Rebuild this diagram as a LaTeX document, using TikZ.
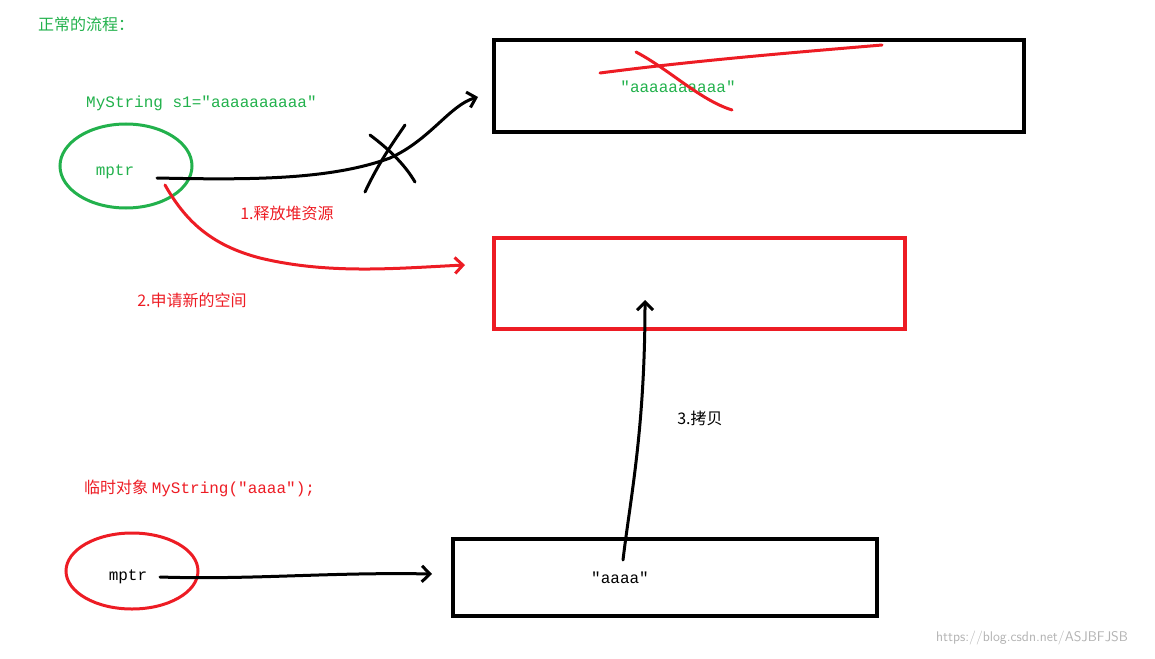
\documentclass[tikz,border=0pt]{standalone}
\usepackage{fontspec}
\setmonofont{Liberation Mono}
\newfontfamily\cjk{Noto Sans CJK SC}
\usetikzlibrary{arrows.meta,shapes.geometric}
\definecolor{gr}{RGB}{34,177,76}
\definecolor{rd}{RGB}{237,28,36}
\tikzset{lbl/.style={font=\fontsize{16}{18}\selectfont\cjk, inner sep=0},
 code/.style={font=\fontsize{16}{18}\selectfont\ttfamily, inner sep=0},
 boxb/.style={draw, line width=4pt},
 pen/.style={line width=3pt, line cap=round, line join=round},
 tip/.style={-{Straight Barb[length=8pt,width=16pt]}}}
\begin{document}
\begin{tikzpicture}[x=1pt,y=-1pt]
\useasboundingbox (0,0) rectangle (1155,658);
\node[lbl, text=gr, anchor=west] (t1) at (38,24) {正常的流程：};
\node[code, text=gr, anchor=west] (t2) at (86,103) {MyString s1="aaaaaaaaaa"};
\node[draw=gr, line width=3pt, ellipse, minimum width=132pt, minimum height=84pt] (e1) at (126,166) {};
\node[code, text=gr] (m1) at (115,172) {mptr};
\node[boxb, minimum width=530pt, minimum height=92pt, anchor=north west] (b1) at (492,38) {};
\node[code, text=gr] (s1) at (678,87) {"aaaaaaaaaa"};
\draw[pen, rd] (600,73) .. controls (700,60) and (800,52) .. (882,45);
\draw[pen, rd] (636,52) .. controls (670,70) and (700,100) .. (732,110);
\coordinate (a1s) at (157,178);
\draw[pen, tip] (a1s) .. controls (250,180) and (330,180) .. (390,158) .. controls (430,140) and (450,105) .. (478,97);
\draw[pen] (365,192) .. controls (380,160) and (395,140) .. (405,125);
\draw[pen] (370,135) .. controls (390,150) and (405,165) .. (415,182);
\node[lbl, text=rd] (l1) at (287,213) {1.释放堆资源};
\coordinate (a2s) at (165,185);
\draw[pen, rd, tip] (a2s) .. controls (185,220) and (210,245) .. (260,258) .. controls (330,275) and (400,268) .. (465,265);
\node[lbl, text=rd] (l2) at (192,300) {2.申请新的空间};
\node[draw=rd, line width=4pt, minimum width=411pt, minimum height=91pt, anchor=north west] (b2) at (492,236) {};
\node[lbl] (l3) at (700,418) {3.拷贝};
\node[lbl, text=rd, anchor=west] (t3) at (84,488) {临时对象 {\ttfamily MyString("aaaa");}};
\node[draw=rd, line width=3pt, ellipse, minimum width=132pt, minimum height=76pt] (e2) at (132,571) {};
\node[code] (m2) at (128,577) {mptr};
\node[boxb, minimum width=424pt, minimum height=77pt, anchor=north west] (b3) at (451,537) {};
\node[code] (s3) at (620,578) {"aaaa"};
\coordinate (a3s) at (160,577);
\draw[pen, tip] (a3s) .. controls (250,580) and (330,572) .. (432,574);
\coordinate (a4s) at (623,560);
\draw[pen, tip] (a4s) .. controls (630,500) and (645,430) .. (645,300);
\node[font=\fontsize{14}{16}\selectfont\sffamily, text=gray!60] (wm) at (1032,638) {https://blog.csdn.net/ASJBFJSB};
\end{tikzpicture}
\end{document}
